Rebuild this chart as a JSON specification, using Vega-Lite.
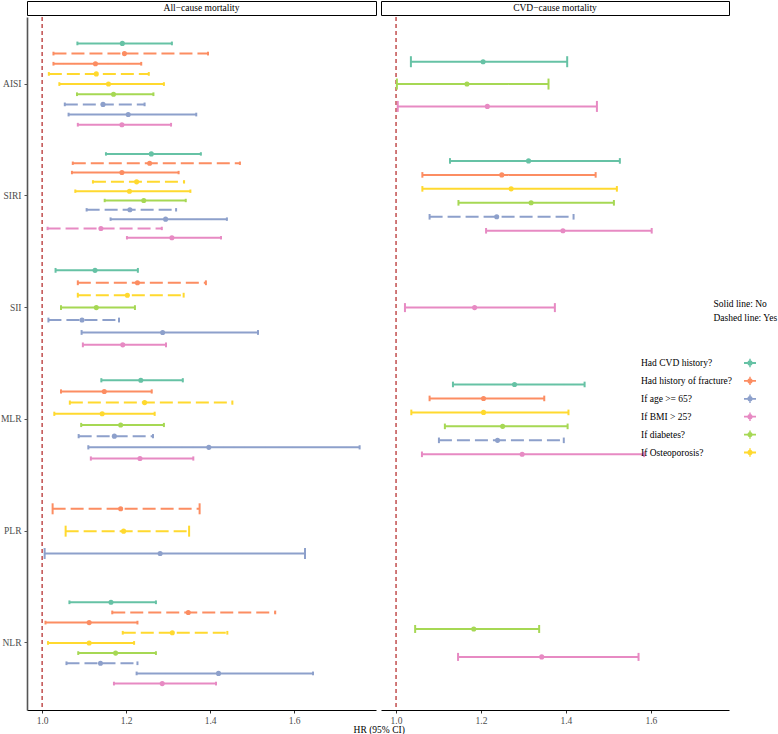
{
  "$schema": "https://vega.github.io/schema/vega-lite/v6.json",
  "padding": {"left": 0, "top": 0, "right": 0, "bottom": 0},
  "config": {
    "font": "Liberation Serif",
    "view": {"stroke": null},
    "axis": {"grid": false, "labelFont": "Liberation Serif", "labelFontSize": 9.5, "labelColor": "#4d4d4d", "tickColor": "#333333", "tickSize": 3, "labelPadding": 2, "domainColor": "#333333"},
    "legend": {"labelFont": "Liberation Serif", "titleFont": "Liberation Serif"}
  },
  "title": {"text": "HR (95% CI)", "orient": "bottom", "anchor": "middle", "fontSize": 9.5, "fontWeight": "normal", "font": "Liberation Serif", "color": "black", "offset": 0, "dx": -10},
  "datasets": {
    "ref": [{"hr": 1}],
    "hr": [
      {"outcome": "All", "index": "AISI", "group": "Had CVD history?", "level": "No", "key": "Had CVD history? / No", "hr": 1.191, "lo": 1.084, "hi": 1.309},
      {"outcome": "All", "index": "AISI", "group": "Had history of fracture?", "level": "Yes", "key": "Had history of fracture? / Yes", "hr": 1.196, "lo": 1.027, "hi": 1.395},
      {"outcome": "All", "index": "AISI", "group": "Had history of fracture?", "level": "No", "key": "Had history of fracture? / No", "hr": 1.127, "lo": 1.027, "hi": 1.236},
      {"outcome": "All", "index": "AISI", "group": "If Osteoporosis?", "level": "Yes", "key": "If Osteoporosis? / Yes", "hr": 1.129, "lo": 1.016, "hi": 1.254},
      {"outcome": "All", "index": "AISI", "group": "If Osteoporosis?", "level": "No", "key": "If Osteoporosis? / No", "hr": 1.158, "lo": 1.041, "hi": 1.290},
      {"outcome": "All", "index": "AISI", "group": "If diabetes?", "level": "No", "key": "If diabetes? / No", "hr": 1.170, "lo": 1.083, "hi": 1.265},
      {"outcome": "All", "index": "AISI", "group": "If age >= 65?", "level": "Yes", "key": "If age >= 65? / Yes", "hr": 1.145, "lo": 1.054, "hi": 1.244},
      {"outcome": "All", "index": "AISI", "group": "If age >= 65?", "level": "No", "key": "If age >= 65? / No", "hr": 1.205, "lo": 1.063, "hi": 1.367},
      {"outcome": "All", "index": "AISI", "group": "If BMI > 25?", "level": "No", "key": "If BMI > 25? / No", "hr": 1.190, "lo": 1.085, "hi": 1.307},

      {"outcome": "All", "index": "SIRI", "group": "Had CVD history?", "level": "No", "key": "Had CVD history? / No", "hr": 1.260, "lo": 1.152, "hi": 1.378},
      {"outcome": "All", "index": "SIRI", "group": "Had history of fracture?", "level": "Yes", "key": "Had history of fracture? / Yes", "hr": 1.256, "lo": 1.073, "hi": 1.471},
      {"outcome": "All", "index": "SIRI", "group": "Had history of fracture?", "level": "No", "key": "Had history of fracture? / No", "hr": 1.190, "lo": 1.071, "hi": 1.325},
      {"outcome": "All", "index": "SIRI", "group": "If Osteoporosis?", "level": "Yes", "key": "If Osteoporosis? / Yes", "hr": 1.225, "lo": 1.121, "hi": 1.338},
      {"outcome": "All", "index": "SIRI", "group": "If Osteoporosis?", "level": "No", "key": "If Osteoporosis? / No", "hr": 1.208, "lo": 1.079, "hi": 1.353},
      {"outcome": "All", "index": "SIRI", "group": "If diabetes?", "level": "No", "key": "If diabetes? / No", "hr": 1.242, "lo": 1.149, "hi": 1.342},
      {"outcome": "All", "index": "SIRI", "group": "If age >= 65?", "level": "Yes", "key": "If age >= 65? / Yes", "hr": 1.209, "lo": 1.106, "hi": 1.319},
      {"outcome": "All", "index": "SIRI", "group": "If age >= 65?", "level": "No", "key": "If age >= 65? / No", "hr": 1.294, "lo": 1.163, "hi": 1.440},
      {"outcome": "All", "index": "SIRI", "group": "If BMI > 25?", "level": "Yes", "key": "If BMI > 25? / Yes", "hr": 1.140, "lo": 1.013, "hi": 1.285},
      {"outcome": "All", "index": "SIRI", "group": "If BMI > 25?", "level": "No", "key": "If BMI > 25? / No", "hr": 1.309, "lo": 1.202, "hi": 1.426},

      {"outcome": "All", "index": "SII", "group": "Had CVD history?", "level": "No", "key": "Had CVD history? / No", "hr": 1.126, "lo": 1.032, "hi": 1.228},
      {"outcome": "All", "index": "SII", "group": "Had history of fracture?", "level": "Yes", "key": "Had history of fracture? / Yes", "hr": 1.227, "lo": 1.085, "hi": 1.390},
      {"outcome": "All", "index": "SII", "group": "If Osteoporosis?", "level": "Yes", "key": "If Osteoporosis? / Yes", "hr": 1.203, "lo": 1.085, "hi": 1.337},
      {"outcome": "All", "index": "SII", "group": "If diabetes?", "level": "No", "key": "If diabetes? / No", "hr": 1.129, "lo": 1.045, "hi": 1.221},
      {"outcome": "All", "index": "SII", "group": "If age >= 65?", "level": "Yes", "key": "If age >= 65? / Yes", "hr": 1.095, "lo": 1.015, "hi": 1.183},
      {"outcome": "All", "index": "SII", "group": "If age >= 65?", "level": "No", "key": "If age >= 65? / No", "hr": 1.287, "lo": 1.094, "hi": 1.514},
      {"outcome": "All", "index": "SII", "group": "If BMI > 25?", "level": "No", "key": "If BMI > 25? / No", "hr": 1.192, "lo": 1.097, "hi": 1.295},

      {"outcome": "All", "index": "MLR", "group": "Had CVD history?", "level": "No", "key": "Had CVD history? / No", "hr": 1.235, "lo": 1.141, "hi": 1.335},
      {"outcome": "All", "index": "MLR", "group": "Had history of fracture?", "level": "No", "key": "Had history of fracture? / No", "hr": 1.148, "lo": 1.045, "hi": 1.261},
      {"outcome": "All", "index": "MLR", "group": "If Osteoporosis?", "level": "Yes", "key": "If Osteoporosis? / Yes", "hr": 1.244, "lo": 1.066, "hi": 1.453},
      {"outcome": "All", "index": "MLR", "group": "If Osteoporosis?", "level": "No", "key": "If Osteoporosis? / No", "hr": 1.143, "lo": 1.029, "hi": 1.268},
      {"outcome": "All", "index": "MLR", "group": "If diabetes?", "level": "No", "key": "If diabetes? / No", "hr": 1.187, "lo": 1.093, "hi": 1.290},
      {"outcome": "All", "index": "MLR", "group": "If age >= 65?", "level": "Yes", "key": "If age >= 65? / Yes", "hr": 1.172, "lo": 1.087, "hi": 1.264},
      {"outcome": "All", "index": "MLR", "group": "If age >= 65?", "level": "No", "key": "If age >= 65? / No", "hr": 1.397, "lo": 1.110, "hi": 1.756},
      {"outcome": "All", "index": "MLR", "group": "If BMI > 25?", "level": "No", "key": "If BMI > 25? / No", "hr": 1.233, "lo": 1.116, "hi": 1.360},

      {"outcome": "All", "index": "PLR", "group": "Had history of fracture?", "level": "Yes", "key": "Had history of fracture? / Yes", "hr": 1.187, "lo": 1.025, "hi": 1.375},
      {"outcome": "All", "index": "PLR", "group": "If Osteoporosis?", "level": "Yes", "key": "If Osteoporosis? / Yes", "hr": 1.194, "lo": 1.056, "hi": 1.350},
      {"outcome": "All", "index": "PLR", "group": "If age >= 65?", "level": "No", "key": "If age >= 65? / No", "hr": 1.281, "lo": 1.006, "hi": 1.626},

      {"outcome": "All", "index": "NLR", "group": "Had CVD history?", "level": "No", "key": "Had CVD history? / No", "hr": 1.164, "lo": 1.065, "hi": 1.271},
      {"outcome": "All", "index": "NLR", "group": "Had history of fracture?", "level": "Yes", "key": "Had history of fracture? / Yes", "hr": 1.348, "lo": 1.167, "hi": 1.555},
      {"outcome": "All", "index": "NLR", "group": "Had history of fracture?", "level": "No", "key": "Had history of fracture? / No", "hr": 1.112, "lo": 1.008, "hi": 1.227},
      {"outcome": "All", "index": "NLR", "group": "If Osteoporosis?", "level": "Yes", "key": "If Osteoporosis? / Yes", "hr": 1.310, "lo": 1.192, "hi": 1.441},
      {"outcome": "All", "index": "NLR", "group": "If Osteoporosis?", "level": "No", "key": "If Osteoporosis? / No", "hr": 1.112, "lo": 1.014, "hi": 1.219},
      {"outcome": "All", "index": "NLR", "group": "If diabetes?", "level": "No", "key": "If diabetes? / No", "hr": 1.175, "lo": 1.086, "hi": 1.271},
      {"outcome": "All", "index": "NLR", "group": "If age >= 65?", "level": "Yes", "key": "If age >= 65? / Yes", "hr": 1.139, "lo": 1.058, "hi": 1.227},
      {"outcome": "All", "index": "NLR", "group": "If age >= 65?", "level": "No", "key": "If age >= 65? / No", "hr": 1.420, "lo": 1.225, "hi": 1.645},
      {"outcome": "All", "index": "NLR", "group": "If BMI > 25?", "level": "No", "key": "If BMI > 25? / No", "hr": 1.286, "lo": 1.171, "hi": 1.414},

      {"outcome": "CVD", "index": "AISI", "group": "Had CVD history?", "level": "No", "key": "Had CVD history? / No", "hr": 1.205, "lo": 1.035, "hi": 1.403},
      {"outcome": "CVD", "index": "AISI", "group": "If diabetes?", "level": "No", "key": "If diabetes? / No", "hr": 1.167, "lo": 1.002, "hi": 1.359},
      {"outcome": "CVD", "index": "AISI", "group": "If BMI > 25?", "level": "No", "key": "If BMI > 25? / No", "hr": 1.215, "lo": 1.004, "hi": 1.473},

      {"outcome": "CVD", "index": "SIRI", "group": "Had CVD history?", "level": "No", "key": "Had CVD history? / No", "hr": 1.312, "lo": 1.127, "hi": 1.527},
      {"outcome": "CVD", "index": "SIRI", "group": "Had history of fracture?", "level": "No", "key": "Had history of fracture? / No", "hr": 1.249, "lo": 1.062, "hi": 1.470},
      {"outcome": "CVD", "index": "SIRI", "group": "If Osteoporosis?", "level": "No", "key": "If Osteoporosis? / No", "hr": 1.271, "lo": 1.062, "hi": 1.520},
      {"outcome": "CVD", "index": "SIRI", "group": "If diabetes?", "level": "No", "key": "If diabetes? / No", "hr": 1.318, "lo": 1.147, "hi": 1.513},
      {"outcome": "CVD", "index": "SIRI", "group": "If age >= 65?", "level": "Yes", "key": "If age >= 65? / Yes", "hr": 1.237, "lo": 1.079, "hi": 1.418},
      {"outcome": "CVD", "index": "SIRI", "group": "If BMI > 25?", "level": "No", "key": "If BMI > 25? / No", "hr": 1.393, "lo": 1.212, "hi": 1.602},

      {"outcome": "CVD", "index": "SII", "group": "If BMI > 25?", "level": "No", "key": "If BMI > 25? / No", "hr": 1.185, "lo": 1.021, "hi": 1.374},

      {"outcome": "CVD", "index": "MLR", "group": "Had CVD history?", "level": "No", "key": "Had CVD history? / No", "hr": 1.279, "lo": 1.134, "hi": 1.444},
      {"outcome": "CVD", "index": "MLR", "group": "Had history of fracture?", "level": "No", "key": "Had history of fracture? / No", "hr": 1.206, "lo": 1.079, "hi": 1.349},
      {"outcome": "CVD", "index": "MLR", "group": "If Osteoporosis?", "level": "No", "key": "If Osteoporosis? / No", "hr": 1.206, "lo": 1.036, "hi": 1.406},
      {"outcome": "CVD", "index": "MLR", "group": "If diabetes?", "level": "No", "key": "If diabetes? / No", "hr": 1.251, "lo": 1.115, "hi": 1.404},
      {"outcome": "CVD", "index": "MLR", "group": "If age >= 65?", "level": "Yes", "key": "If age >= 65? / Yes", "hr": 1.239, "lo": 1.101, "hi": 1.395},
      {"outcome": "CVD", "index": "MLR", "group": "If BMI > 25?", "level": "No", "key": "If BMI > 25? / No", "hr": 1.297, "lo": 1.061, "hi": 1.584},

      {"outcome": "CVD", "index": "NLR", "group": "If diabetes?", "level": "No", "key": "If diabetes? / No", "hr": 1.183, "lo": 1.045, "hi": 1.337},
      {"outcome": "CVD", "index": "NLR", "group": "If BMI > 25?", "level": "No", "key": "If BMI > 25? / No", "hr": 1.343, "lo": 1.146, "hi": 1.571}
    ]
  },
  "spacing": 3,
  "hconcat": [
    {
      "spacing": 0,
      "vconcat": [
        {
          "width": 349, "height": 14,
          "view": {"stroke": "black", "strokeWidth": 1, "fill": "white"},
          "data": {"values": [{"label": "All−cause mortality"}]},
          "mark": {"type": "text", "fontSize": 9.5, "color": "black", "font": "Liberation Serif"},
          "encoding": {"text": {"field": "label"}}
        },
        {
          "width": 349, "height": 693,
          "layer": [
            {
              "data": {"name": "ref"},
              "mark": {"type": "rule", "color": "#B22222", "strokeDash": [4, 3], "strokeWidth": 1.2},
              "encoding": {"x": {"field": "hr", "type": "quantitative", "title": null,
                "scale": {"domain": [0.964, 1.795], "nice": false, "zero": false},
                "axis": {"values": [1, 1.2, 1.4, 1.6], "format": ".1f", "domainColor": "black", "domainWidth": 1.2, "tickColor": "#333333", "labelPadding": 2}}}
            },
            {
              "data": {"name": "hr"},
              "transform": [{"filter": {"field": "outcome", "equal": "All"}}],
              "encoding": {
                "y": {"field": "index", "type": "nominal", "title": null, "sort": ["AISI", "SIRI", "SII", "MLR", "PLR", "NLR"],
                  "scale": {"domain": ["AISI", "SIRI", "SII", "MLR", "PLR", "NLR"], "paddingInner": 0, "paddingOuter": 0.1},
                  "axis": {"domainColor": "#555555", "domainWidth": 1.6, "tickColor": "#555555", "labelColor": "#4d4d4d", "labelPadding": 3}},
                "color": {"field": "group", "type": "nominal",
                  "scale": {"domain": ["Had CVD history?", "Had history of fracture?", "If age >= 65?", "If BMI > 25?", "If diabetes?", "If Osteoporosis?"],
                    "range": ["#66C2A5", "#FC8D62", "#8DA0CB", "#E78AC3", "#A6D854", "#FFD92F"]},
                  "legend": {"title": null, "orient": "none", "legendX": 717, "legendY": 356,
                    "symbolType": "M-1,-0.15L1,-0.15L1,0.15L-1,0.15Z M-0.12,-0.7L0.12,-0.7L0.12,0.7L-0.12,0.7Z M0,-0.45A0.45,0.45 0 1,1 0,0.45A0.45,0.45 0 1,1 0,-0.45Z",
                    "symbolSize": 144, "symbolStrokeWidth": 0, "labelOffset": -115, "labelAlign": "left", "labelFontSize": 9.5, "labelColor": "black", "labelLimit": 200, "rowPadding": 6.9,
                    "encode": {"symbols": {"update": {"fill": {"scale": "color", "field": "value"}, "stroke": {"value": "transparent"}, "opacity": {"value": 1}}}}}},
                "strokeDash": {"field": "level", "type": "nominal", "scale": {"domain": ["No", "Yes"], "range": [[1, 0], [13, 5]]},
                  "legend": {"title": null, "orient": "none", "legendX": 673, "legendY": 298,
                    "labelExpr": "datum.label == 'No' ? 'Solid line: No' : 'Dashed line: Yes'",
                    "symbolType": "circle", "symbolSize": 1, "symbolOpacity": 0, "symbolStrokeWidth": 0, "symbolStrokeColor": "transparent",
                    "labelOffset": 4, "labelFontSize": 9.5, "labelColor": "black", "labelLimit": 200, "rowPadding": 3}}
              },
              "resolve": {"scale": {"yOffset": "independent"}},
              "layer": [
                {
                  "transform": [{"filter": {"field": "index", "oneOf": ["AISI", "NLR"]}}],
                  "encoding": {"yOffset": {"field": "key", "type": "nominal", "sort": null, "scale": {"paddingInner": 0, "paddingOuter": 4.5}}},
                  "layer": [
                    {"mark": {"type": "rule", "strokeWidth": 2}, "encoding": {"x": {"field": "lo", "type": "quantitative", "title": null, "scale": {"domain": [0.964, 1.795], "nice": false, "zero": false}}, "x2": {"field": "hi"}}},
                    {"mark": {"type": "tick", "thickness": 2, "size": 3.7, "opacity": 1}, "encoding": {"x": {"field": "lo", "type": "quantitative", "title": null, "scale": {"domain": [0.964, 1.795], "nice": false, "zero": false}}}},
                    {"mark": {"type": "tick", "thickness": 2, "size": 3.7, "opacity": 1}, "encoding": {"x": {"field": "hi", "type": "quantitative", "title": null, "scale": {"domain": [0.964, 1.795], "nice": false, "zero": false}}}},
                    {"mark": {"type": "circle", "size": 26, "opacity": 1}, "encoding": {"x": {"field": "hr", "type": "quantitative", "title": null, "scale": {"domain": [0.964, 1.795], "nice": false, "zero": false}}}}
                  ]
                },
                {
                  "transform": [{"filter": {"field": "index", "equal": "SIRI"}}],
                  "encoding": {"yOffset": {"field": "key", "type": "nominal", "sort": null, "scale": {"paddingInner": 0, "paddingOuter": 5}}},
                  "layer": [
                    {"mark": {"type": "rule", "strokeWidth": 2}, "encoding": {"x": {"field": "lo", "type": "quantitative", "title": null, "scale": {"domain": [0.964, 1.795], "nice": false, "zero": false}}, "x2": {"field": "hi"}}},
                    {"mark": {"type": "tick", "thickness": 2, "size": 3.4, "opacity": 1}, "encoding": {"x": {"field": "lo", "type": "quantitative", "title": null, "scale": {"domain": [0.964, 1.795], "nice": false, "zero": false}}}},
                    {"mark": {"type": "tick", "thickness": 2, "size": 3.4, "opacity": 1}, "encoding": {"x": {"field": "hi", "type": "quantitative", "title": null, "scale": {"domain": [0.964, 1.795], "nice": false, "zero": false}}}},
                    {"mark": {"type": "circle", "size": 26, "opacity": 1}, "encoding": {"x": {"field": "hr", "type": "quantitative", "title": null, "scale": {"domain": [0.964, 1.795], "nice": false, "zero": false}}}}
                  ]
                },
                {
                  "transform": [{"filter": {"field": "index", "equal": "SII"}}],
                  "encoding": {"yOffset": {"field": "key", "type": "nominal", "sort": null, "scale": {"paddingInner": 0, "paddingOuter": 3.5}}},
                  "layer": [
                    {"mark": {"type": "rule", "strokeWidth": 2}, "encoding": {"x": {"field": "lo", "type": "quantitative", "title": null, "scale": {"domain": [0.964, 1.795], "nice": false, "zero": false}}, "x2": {"field": "hi"}}},
                    {"mark": {"type": "tick", "thickness": 2, "size": 4.8, "opacity": 1}, "encoding": {"x": {"field": "lo", "type": "quantitative", "title": null, "scale": {"domain": [0.964, 1.795], "nice": false, "zero": false}}}},
                    {"mark": {"type": "tick", "thickness": 2, "size": 4.8, "opacity": 1}, "encoding": {"x": {"field": "hi", "type": "quantitative", "title": null, "scale": {"domain": [0.964, 1.795], "nice": false, "zero": false}}}},
                    {"mark": {"type": "circle", "size": 26, "opacity": 1}, "encoding": {"x": {"field": "hr", "type": "quantitative", "title": null, "scale": {"domain": [0.964, 1.795], "nice": false, "zero": false}}}}
                  ]
                },
                {
                  "transform": [{"filter": {"field": "index", "equal": "MLR"}}],
                  "encoding": {"yOffset": {"field": "key", "type": "nominal", "sort": null, "scale": {"paddingInner": 0, "paddingOuter": 4}}},
                  "layer": [
                    {"mark": {"type": "rule", "strokeWidth": 2}, "encoding": {"x": {"field": "lo", "type": "quantitative", "title": null, "scale": {"domain": [0.964, 1.795], "nice": false, "zero": false}}, "x2": {"field": "hi"}}},
                    {"mark": {"type": "tick", "thickness": 2, "size": 4.2, "opacity": 1}, "encoding": {"x": {"field": "lo", "type": "quantitative", "title": null, "scale": {"domain": [0.964, 1.795], "nice": false, "zero": false}}}},
                    {"mark": {"type": "tick", "thickness": 2, "size": 4.2, "opacity": 1}, "encoding": {"x": {"field": "hi", "type": "quantitative", "title": null, "scale": {"domain": [0.964, 1.795], "nice": false, "zero": false}}}},
                    {"mark": {"type": "circle", "size": 26, "opacity": 1}, "encoding": {"x": {"field": "hr", "type": "quantitative", "title": null, "scale": {"domain": [0.964, 1.795], "nice": false, "zero": false}}}}
                  ]
                },
                {
                  "transform": [{"filter": {"field": "index", "equal": "PLR"}}],
                  "encoding": {"yOffset": {"field": "key", "type": "nominal", "sort": null, "scale": {"paddingInner": 0, "paddingOuter": 1.5}}},
                  "layer": [
                    {"mark": {"type": "rule", "strokeWidth": 2}, "encoding": {"x": {"field": "lo", "type": "quantitative", "title": null, "scale": {"domain": [0.964, 1.795], "nice": false, "zero": false}}, "x2": {"field": "hi"}}},
                    {"mark": {"type": "tick", "thickness": 2, "size": 11, "opacity": 1}, "encoding": {"x": {"field": "lo", "type": "quantitative", "title": null, "scale": {"domain": [0.964, 1.795], "nice": false, "zero": false}}}},
                    {"mark": {"type": "tick", "thickness": 2, "size": 11, "opacity": 1}, "encoding": {"x": {"field": "hi", "type": "quantitative", "title": null, "scale": {"domain": [0.964, 1.795], "nice": false, "zero": false}}}},
                    {"mark": {"type": "circle", "size": 26, "opacity": 1}, "encoding": {"x": {"field": "hr", "type": "quantitative", "title": null, "scale": {"domain": [0.964, 1.795], "nice": false, "zero": false}}}}
                  ]
                }
              ]
            }
          ]
        }
      ]
    },
    {
      "spacing": 0,
      "vconcat": [
        {
          "width": 348, "height": 14,
          "view": {"stroke": "black", "strokeWidth": 1, "fill": "white"},
          "data": {"values": [{"label": "CVD−cause mortality"}]},
          "mark": {"type": "text", "fontSize": 9.5, "color": "black", "font": "Liberation Serif"},
          "encoding": {"text": {"field": "label"}}
        },
        {
          "width": 348, "height": 693,
          "layer": [
            {
              "data": {"name": "ref"},
              "mark": {"type": "rule", "color": "#B22222", "strokeDash": [4, 3], "strokeWidth": 1.2},
              "encoding": {"x": {"field": "hr", "type": "quantitative", "title": null,
                "scale": {"domain": [0.9646, 1.784], "nice": false, "zero": false},
                "axis": {"values": [1, 1.2, 1.4, 1.6], "format": ".1f", "domainColor": "black", "domainWidth": 1.2, "tickColor": "#333333", "labelPadding": 2}}}
            },
            {
              "data": {"name": "hr"},
              "transform": [{"filter": {"field": "outcome", "equal": "CVD"}}],
              "encoding": {
                "y": {"field": "index", "type": "nominal", "title": null, "sort": ["AISI", "SIRI", "SII", "MLR", "PLR", "NLR"],
                  "scale": {"domain": ["AISI", "SIRI", "SII", "MLR", "PLR", "NLR"], "paddingInner": 0, "paddingOuter": 0.1},
                  "axis": null},
                "color": {"field": "group", "type": "nominal",
                  "scale": {"domain": ["Had CVD history?", "Had history of fracture?", "If age >= 65?", "If BMI > 25?", "If diabetes?", "If Osteoporosis?"],
                    "range": ["#66C2A5", "#FC8D62", "#8DA0CB", "#E78AC3", "#A6D854", "#FFD92F"]},
                  "legend": {"title": null, "orient": "none", "legendX": 717, "legendY": 356,
                    "symbolType": "M-1,-0.15L1,-0.15L1,0.15L-1,0.15Z M-0.12,-0.7L0.12,-0.7L0.12,0.7L-0.12,0.7Z M0,-0.45A0.45,0.45 0 1,1 0,0.45A0.45,0.45 0 1,1 0,-0.45Z",
                    "symbolSize": 144, "symbolStrokeWidth": 0, "labelOffset": -115, "labelAlign": "left", "labelFontSize": 9.5, "labelColor": "black", "labelLimit": 200, "rowPadding": 6.9,
                    "encode": {"symbols": {"update": {"fill": {"scale": "color", "field": "value"}, "stroke": {"value": "transparent"}, "opacity": {"value": 1}}}}}},
                "strokeDash": {"field": "level", "type": "nominal", "scale": {"domain": ["No", "Yes"], "range": [[1, 0], [13, 5]]},
                  "legend": {"title": null, "orient": "none", "legendX": 673, "legendY": 298,
                    "labelExpr": "datum.label == 'No' ? 'Solid line: No' : 'Dashed line: Yes'",
                    "symbolType": "circle", "symbolSize": 1, "symbolOpacity": 0, "symbolStrokeWidth": 0, "symbolStrokeColor": "transparent",
                    "labelOffset": 4, "labelFontSize": 9.5, "labelColor": "black", "labelLimit": 200, "rowPadding": 3}}
              },
              "resolve": {"scale": {"yOffset": "independent"}},
              "layer": [
                {
                  "transform": [{"filter": {"field": "index", "equal": "AISI"}}],
                  "encoding": {"yOffset": {"field": "key", "type": "nominal", "sort": null, "scale": {"paddingInner": 0, "paddingOuter": 1.5}}},
                  "layer": [
                    {"mark": {"type": "rule", "strokeWidth": 2}, "encoding": {"x": {"field": "lo", "type": "quantitative", "title": null, "scale": {"domain": [0.9646, 1.784], "nice": false, "zero": false}}, "x2": {"field": "hi"}}},
                    {"mark": {"type": "tick", "thickness": 2, "size": 11, "opacity": 1}, "encoding": {"x": {"field": "lo", "type": "quantitative", "title": null, "scale": {"domain": [0.9646, 1.784], "nice": false, "zero": false}}}},
                    {"mark": {"type": "tick", "thickness": 2, "size": 11, "opacity": 1}, "encoding": {"x": {"field": "hi", "type": "quantitative", "title": null, "scale": {"domain": [0.9646, 1.784], "nice": false, "zero": false}}}},
                    {"mark": {"type": "circle", "size": 26, "opacity": 1}, "encoding": {"x": {"field": "hr", "type": "quantitative", "title": null, "scale": {"domain": [0.9646, 1.784], "nice": false, "zero": false}}}}
                  ]
                },
                {
                  "transform": [{"filter": {"field": "index", "oneOf": ["SIRI", "MLR"]}}],
                  "encoding": {"yOffset": {"field": "key", "type": "nominal", "sort": null, "scale": {"paddingInner": 0, "paddingOuter": 3}}},
                  "layer": [
                    {"mark": {"type": "rule", "strokeWidth": 2}, "encoding": {"x": {"field": "lo", "type": "quantitative", "title": null, "scale": {"domain": [0.9646, 1.784], "nice": false, "zero": false}}, "x2": {"field": "hi"}}},
                    {"mark": {"type": "tick", "thickness": 2, "size": 5.6, "opacity": 1}, "encoding": {"x": {"field": "lo", "type": "quantitative", "title": null, "scale": {"domain": [0.9646, 1.784], "nice": false, "zero": false}}}},
                    {"mark": {"type": "tick", "thickness": 2, "size": 5.6, "opacity": 1}, "encoding": {"x": {"field": "hi", "type": "quantitative", "title": null, "scale": {"domain": [0.9646, 1.784], "nice": false, "zero": false}}}},
                    {"mark": {"type": "circle", "size": 26, "opacity": 1}, "encoding": {"x": {"field": "hr", "type": "quantitative", "title": null, "scale": {"domain": [0.9646, 1.784], "nice": false, "zero": false}}}}
                  ]
                },
                {
                  "transform": [{"filter": {"field": "index", "equal": "SII"}}],
                  "encoding": {"yOffset": {"field": "key", "type": "nominal", "sort": null, "scale": {"paddingInner": 0, "paddingOuter": 0.5}}},
                  "layer": [
                    {"mark": {"type": "rule", "strokeWidth": 2}, "encoding": {"x": {"field": "lo", "type": "quantitative", "title": null, "scale": {"domain": [0.9646, 1.784], "nice": false, "zero": false}}, "x2": {"field": "hi"}}},
                    {"mark": {"type": "tick", "thickness": 2, "size": 9, "opacity": 1}, "encoding": {"x": {"field": "lo", "type": "quantitative", "title": null, "scale": {"domain": [0.9646, 1.784], "nice": false, "zero": false}}}},
                    {"mark": {"type": "tick", "thickness": 2, "size": 9, "opacity": 1}, "encoding": {"x": {"field": "hi", "type": "quantitative", "title": null, "scale": {"domain": [0.9646, 1.784], "nice": false, "zero": false}}}},
                    {"mark": {"type": "circle", "size": 26, "opacity": 1}, "encoding": {"x": {"field": "hr", "type": "quantitative", "title": null, "scale": {"domain": [0.9646, 1.784], "nice": false, "zero": false}}}}
                  ]
                },
                {
                  "transform": [{"filter": {"field": "index", "equal": "NLR"}}],
                  "encoding": {"yOffset": {"field": "key", "type": "nominal", "sort": null, "scale": {"paddingInner": 0, "paddingOuter": 1}}},
                  "layer": [
                    {"mark": {"type": "rule", "strokeWidth": 2}, "encoding": {"x": {"field": "lo", "type": "quantitative", "title": null, "scale": {"domain": [0.9646, 1.784], "nice": false, "zero": false}}, "x2": {"field": "hi"}}},
                    {"mark": {"type": "tick", "thickness": 2, "size": 8, "opacity": 1}, "encoding": {"x": {"field": "lo", "type": "quantitative", "title": null, "scale": {"domain": [0.9646, 1.784], "nice": false, "zero": false}}}},
                    {"mark": {"type": "tick", "thickness": 2, "size": 8, "opacity": 1}, "encoding": {"x": {"field": "hi", "type": "quantitative", "title": null, "scale": {"domain": [0.9646, 1.784], "nice": false, "zero": false}}}},
                    {"mark": {"type": "circle", "size": 26, "opacity": 1}, "encoding": {"x": {"field": "hr", "type": "quantitative", "title": null, "scale": {"domain": [0.9646, 1.784], "nice": false, "zero": false}}}}
                  ]
                }
              ]
            }
          ]
        }
      ]
    }
  ]
}
